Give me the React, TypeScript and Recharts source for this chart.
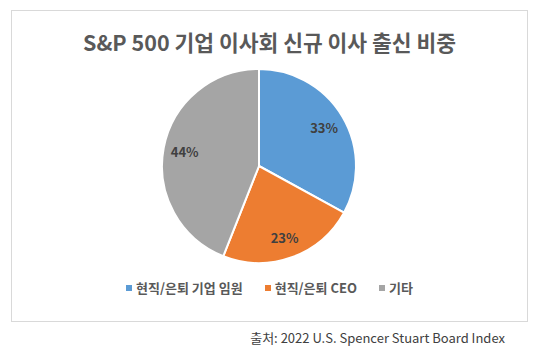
import React from 'react';
import { PieChart, Pie, Cell } from 'recharts';

const categories = ['현직/은퇴 기업 임원', '현직/은퇴 CEO', '기타'];
const shares = [33, 23, 44];
const colors = ['#5B9BD5', '#ED7D31', '#A5A5A5'];

const data = categories.map((name, i) => ({ name, value: shares[i], color: colors[i] }));

const FONT = '"Noto Sans CJK KR", "Noto Sans", sans-serif';
const RAD = Math.PI / 180;

function renderLabel(props: any) {
  const { cx, cy, midAngle, outerRadius, value } = props;
  const r = outerRadius * 0.78;
  const x = cx + r * Math.cos(-midAngle * RAD);
  const y = cy + r * Math.sin(-midAngle * RAD);
  return (
    <text
      x={x}
      y={y}
      fill="#404040"
      fontSize={13}
      fontWeight={700}
      fontFamily={FONT}
      textAnchor="middle"
      dominantBaseline="central"
    >
      {`${value}%`}
    </text>
  );
}

function ChartLegend() {
  return (
    <div
      style={{
        position: 'absolute',
        left: 0,
        top: 267,
        width: '100%',
        display: 'flex',
        justifyContent: 'center',
        gap: 22,
        fontFamily: FONT,
        fontSize: 13,
        fontWeight: 700,
        color: '#595959',
      }}
    >
      {data.map((d) => (
        <div key={d.name} style={{ display: 'flex', alignItems: 'center', gap: 4 }}>
          <span style={{ width: 6, height: 6, background: d.color, display: 'inline-block' }} />
          <span>{d.name}</span>
        </div>
      ))}
    </div>
  );
}

export default function App() {
  return (
    <div style={{ position: 'absolute', left: 0, top: 0, width: 535, height: 353, background: '#fff' }}>
      <div
        style={{
          position: 'absolute',
          left: 11,
          top: 10,
          width: 515,
          height: 310,
          border: '1px solid #D9D9D9',
        }}
      >
        <div
          style={{
            position: 'absolute',
            left: 0,
            top: 15,
            width: '100%',
            textAlign: 'center',
            fontFamily: FONT,
            fontSize: 21.5,
            fontWeight: 700,
            color: '#595959',
          }}
        >
          S&amp;P 500 기업 이사회 신규 이사 출신 비중
        </div>
        <PieChart
          width={515}
          height={310}
          margin={{ top: 0, right: 0, bottom: 0, left: 0 }}
          style={{ position: 'absolute', left: 0, top: 0 }}
        >
          <Pie
            data={data}
            dataKey="value"
            cx={247}
            cy={155}
            outerRadius={97}
            startAngle={90}
            endAngle={-270}
            stroke="#fff"
            strokeWidth={2}
            label={renderLabel}
            labelLine={false}
            isAnimationActive={false}
          >
            {data.map((d) => (
              <Cell key={d.name} fill={d.color} />
            ))}
          </Pie>
        </PieChart>
        <ChartLegend />
      </div>
      <div
        style={{
          position: 'absolute',
          right: 30,
          top: 328,
          fontFamily: FONT,
          fontSize: 13,
          color: '#404040',
        }}
      >
        출처: 2022 U.S. Spencer Stuart Board Index
      </div>
    </div>
  );
}
